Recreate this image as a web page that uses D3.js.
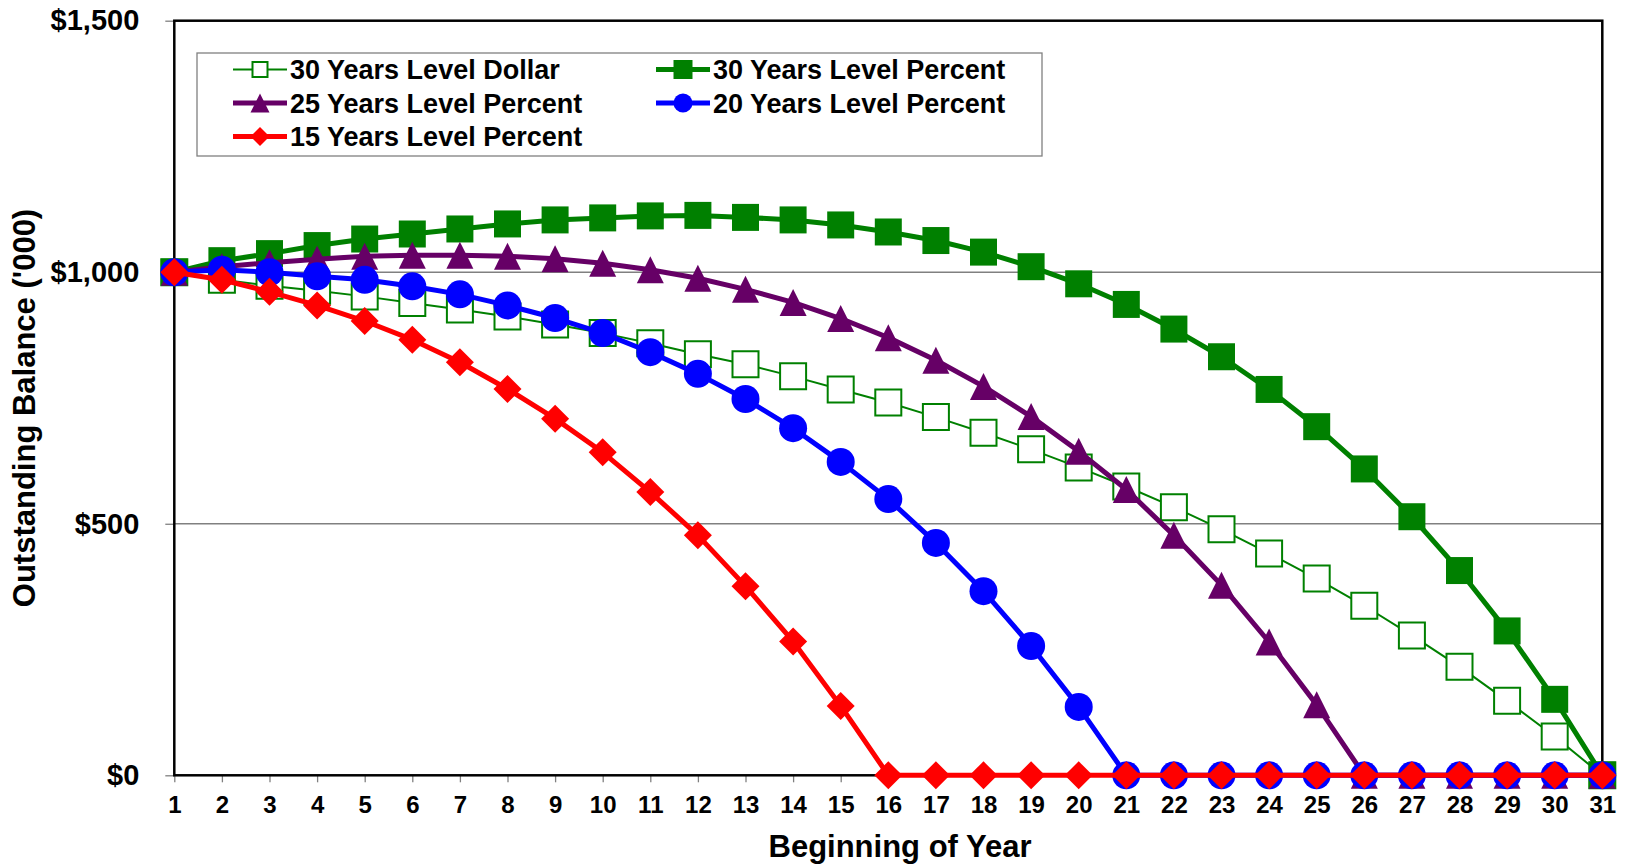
<!DOCTYPE html>
<html>
<head>
<meta charset="utf-8">
<script src="https://cdn.jsdelivr.net/npm/d3@7"></script>
<style>
  html, body { margin: 0; padding: 0; background: #fff; }
  svg { display: block; font-family: "Liberation Sans", Arial, sans-serif; font-weight: bold; }
</style>
</head>
<body>
<svg id="chart" width="1627" height="867"></svg>
<script>
// Outstanding balance ('000) at the beginning of each year, by amortization method
const years = d3.range(1, 32);
const yTicks = [0, 500, 1000, 1500];

const dollar30 = [1000, 985, 973, 963, 952, 939, 926, 912, 896, 879, 859, 837, 817, 793, 767,
                  741, 712, 681, 648, 612, 574, 533, 489, 441, 391, 337, 278, 216, 148, 77, 0];
const percent30 = [1000, 1023, 1037, 1053, 1066, 1076, 1086, 1096, 1104, 1108, 1112, 1113, 1109, 1104, 1094,
                   1080, 1063, 1040, 1011, 977, 936, 887, 832, 767, 693, 609, 514, 407, 287, 151, 0];
const percent25 = [1000, 1011, 1019, 1026, 1032, 1034, 1034, 1032, 1027, 1018, 1005, 988, 966, 940, 908,
                   870, 825, 773, 713, 644, 568, 477, 378, 265, 140, 0, 0, 0, 0, 0, 0];
const percent20 = [1000, 1005, 1000, 992, 985, 972, 956, 934, 909, 879, 841, 798, 748, 690, 623,
                   549, 462, 366, 257, 136, 0, 0, 0, 0, 0, 0, 0, 0, 0, 0, 0];
const percent15 = [1000, 985, 961, 934, 903, 866, 821, 768, 709, 642, 563, 477, 376, 266, 138,
                   0, 0, 0, 0, 0, 0, 0, 0, 0, 0, 0, 0, 0, 0, 0, 0];

const seriesNames = ["30 Years Level Dollar", "30 Years Level Percent", "25 Years Level Percent",
                     "20 Years Level Percent", "15 Years Level Percent"];

const series = [
  { name: seriesNames[0], values: dollar30,  color: "#008000", width: 2, shape: "square",  hollow: true },
  { name: seriesNames[1], values: percent30, color: "#008000", width: 5, shape: "square",  hollow: false },
  { name: seriesNames[2], values: percent25, color: "#660066", width: 5, shape: "triangle", hollow: false },
  { name: seriesNames[3], values: percent20, color: "#0000ff", width: 5, shape: "circle",  hollow: false },
  { name: seriesNames[4], values: percent15, color: "#ff0000", width: 5, shape: "diamond", hollow: false }
];

const svg = d3.select("#chart");
const plot = { left: 174.3, right: 1602.3, top: 20.7, bottom: 775.3 };

const x = d3.scaleLinear().domain([1, 31]).range([plot.left, plot.right]);
const y = d3.scaleLinear().domain([0, 1500]).range([plot.bottom, plot.top]);

// horizontal gridlines
svg.append("g")
  .selectAll("line")
  .data(yTicks.filter(d => d > 0 && d < 1500))
  .join("line")
  .attr("x1", plot.left).attr("x2", plot.right)
  .attr("y1", d => y(d)).attr("y2", d => y(d))
  .attr("stroke", "#808080").attr("stroke-width", 1.3);

// y axis
const yAxis = svg.append("g")
  .attr("transform", `translate(${plot.left},0)`)
  .call(d3.axisLeft(y).tickValues(yTicks).tickSize(9).tickPadding(26)
    .tickFormat(d => "$" + d3.format(",")(d)));
yAxis.select(".domain").remove();
yAxis.selectAll(".tick line").attr("stroke", "#808080").attr("stroke-width", 1.3);
yAxis.selectAll(".tick text")
  .attr("fill", "#000").attr("font-size", 29).attr("font-weight", "bold")
  .attr("font-family", "Liberation Sans, Arial, sans-serif");

// x axis
const xAxis = svg.append("g")
  .attr("transform", `translate(0,${plot.bottom})`)
  .call(d3.axisBottom(x).tickValues(years).tickSize(7).tickPadding(14).tickFormat(d3.format("d")));
xAxis.select(".domain").remove();
xAxis.selectAll(".tick line").attr("stroke", "#808080").attr("stroke-width", 1.3);
xAxis.selectAll(".tick text")
  .attr("fill", "#000").attr("font-size", 24).attr("font-weight", "bold")
  .attr("font-family", "Liberation Sans, Arial, sans-serif");

// plot frame
svg.append("rect")
  .attr("x", plot.left).attr("y", plot.top)
  .attr("width", plot.right - plot.left).attr("height", plot.bottom - plot.top)
  .attr("fill", "none").attr("stroke", "#000").attr("stroke-width", 2.5);

// axis titles
svg.append("text")
  .attr("x", 900).attr("y", 857)
  .attr("text-anchor", "middle").attr("font-size", 31)
  .text("Beginning of Year");

svg.append("text")
  .attr("transform", "translate(35,408) rotate(-90)")
  .attr("text-anchor", "middle").attr("font-size", 31)
  .text("Outstanding Balance ('000)");

// marker path generator, centred on the origin
function markerPath(shape, s) {
  const h = s / 2;
  switch (shape) {
    case "square":   return `M${-h},${-h}H${h}V${h}H${-h}Z`;
    case "triangle": return `M0,${-h}L${h},${h}L${-h},${h}Z`;
    case "diamond":  return `M0,${-h}L${h},0L0,${h}L${-h},0Z`;
    case "circle":   return `M${h},0A${h},${h} 0 1,1 ${-h},0A${h},${h} 0 1,1 ${h},0Z`;
  }
}

function drawMarkers(g, s, cx, cy, size) {
  const path = markerPath(s.shape, size);
  g.append("path")
    .attr("transform", `translate(${cx},${cy})`)
    .attr("d", path)
    .attr("fill", s.hollow ? "#fff" : s.color)
    .attr("stroke", s.hollow ? s.color : "none")
    .attr("stroke-width", s.hollow ? 2 : 0);
}

const line = d3.line().x((d, i) => x(years[i])).y(d => y(d));
const markerSize = { square: 27, triangle: 27, diamond: 28, circle: 28 };

// series: line first, then markers, in series order
series.forEach(s => {
  const g = svg.append("g").attr("class", "series");
  g.append("path")
    .attr("d", line(s.values))
    .attr("fill", "none")
    .attr("stroke", s.color)
    .attr("stroke-width", s.width)
    .attr("stroke-linejoin", "round");
  s.values.forEach((v, i) => {
    const sz = s.hollow ? 26 : markerSize[s.shape];
    drawMarkers(g, s, x(years[i]), y(v), sz);
  });
});

// legend
const legend = svg.append("g");
legend.append("rect")
  .attr("x", 197).attr("y", 53).attr("width", 845).attr("height", 103)
  .attr("fill", "#fff").attr("stroke", "#808080").attr("stroke-width", 1.3);

const legendPos = [
  { lx: 233, ty: 79 }, { lx: 656, ty: 79 },
  { lx: 233, ty: 112.5 }, { lx: 656, ty: 112.5 },
  { lx: 233, ty: 146 }
];
series.forEach((s, i) => {
  const p = legendPos[i];
  const cy = p.ty - 9.5;
  const item = legend.append("g");
  item.append("line")
    .attr("x1", p.lx).attr("x2", p.lx + 54)
    .attr("y1", cy).attr("y2", cy)
    .attr("stroke", s.color).attr("stroke-width", s.width);
  drawMarkers(item, s, p.lx + 27, cy, s.hollow ? 15 : 19);
  item.append("text")
    .attr("x", p.lx + 57).attr("y", p.ty)
    .attr("font-size", 27)
    .text(s.name);
});
</script>
</body>
</html>
